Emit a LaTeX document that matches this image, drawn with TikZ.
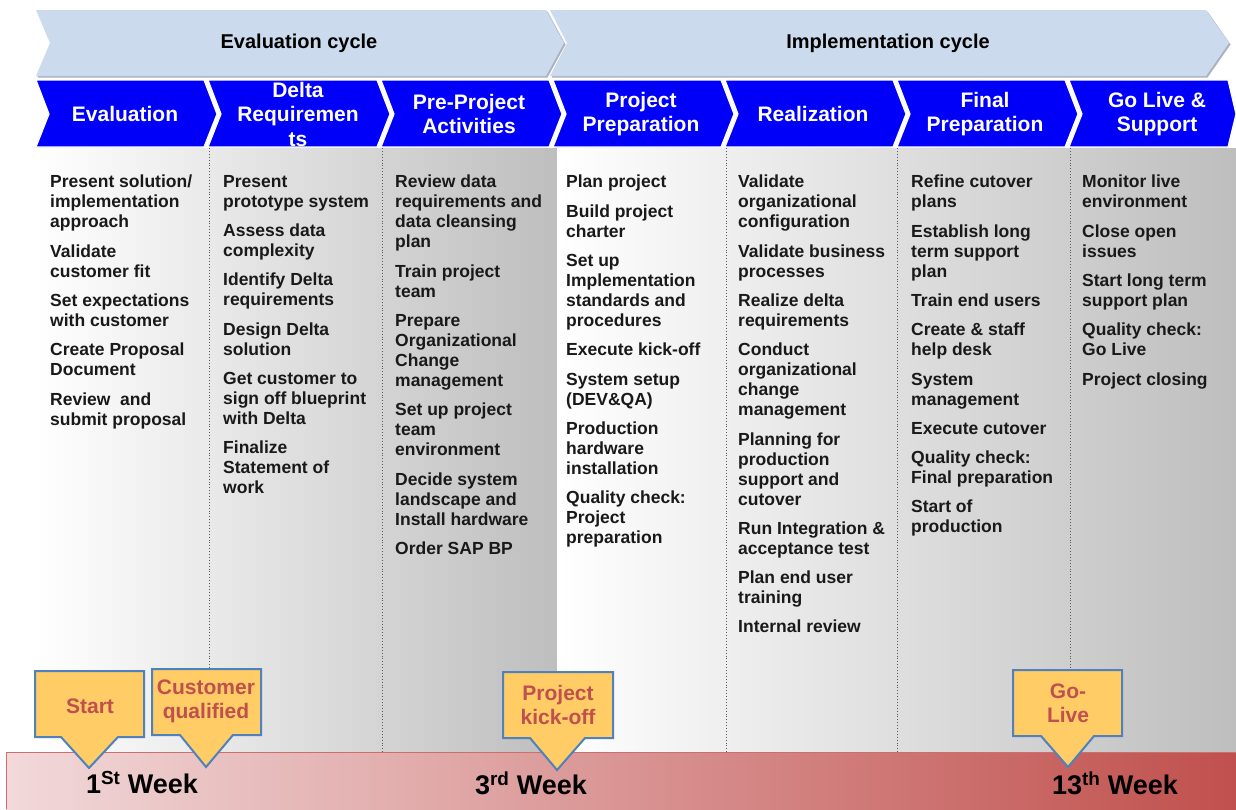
\documentclass[tikz,border=0pt]{standalone}
\usepackage{fontspec}
\setmainfont{Liberation Sans}
\definecolor{hdrblue}{RGB}{203,219,237}
\definecolor{hdrshadow}{RGB}{170,178,190}
\definecolor{phaseblue}{RGB}{0,0,250}
\definecolor{panelgray}{RGB}{190,190,190}
\definecolor{divgray}{RGB}{90,90,90}
\definecolor{barleft}{RGB}{242,217,218}
\definecolor{barright}{RGB}{192,80,77}
\definecolor{barline}{RGB}{205,110,110}
\definecolor{callfill}{RGB}{255,204,102}
\definecolor{callline}{RGB}{79,129,189}
\definecolor{calltext}{RGB}{192,80,77}
\newcommand\hdrfont{\fontsize{20}{24}\selectfont\bfseries}
\newcommand\phasefont{\fontsize{21}{24.5}\selectfont\bfseries}
\newcommand\bodyfont{\fontsize{17.5}{20}\selectfont\bfseries}
\newcommand\callfont{\fontsize{21}{24}\selectfont\bfseries}
\newcommand\weekfont{\fontsize{27}{30}\selectfont\bfseries}
\newcommand\itemgap{\\[9.3pt]}
\tikzset{
  hdr/.style={fill=hdrblue},
  hdrshade/.style={fill=hdrshadow},
  hdrtext/.style={font=\hdrfont, text=black, inner sep=0},
  phase/.style={fill=phaseblue, draw=white, line width=1.2pt},
  phasetext/.style={font=\phasefont, text=white, align=center, inner sep=0},
  body/.style={anchor=north west, align=left, font=\bodyfont, text=black!90, inner sep=0},
  divider/.style={dotted, divgray, line width=0.9pt},
  callout/.style={fill=callfill, draw=callline, line width=2pt, line join=miter},
  calltext/.style={font=\callfont, text=calltext, align=center, inner sep=0},
  week/.style={font=\weekfont, text=black, inner sep=0}
}
\begin{document}
\begin{tikzpicture}[x=1pt,y=-1pt]
\useasboundingbox (0,0) rectangle (1236,809);
\fill[white] (0,0) rectangle (1236,809);
% background panels
\shade[left color=white, right color=panelgray] (36,148) rectangle (557,752);
\shade[left color=white, right color=panelgray] (557,148) rectangle (1236,752);
% dividers
\foreach \x in {209,382,726,897,1070} \draw[divider] (\x,148) -- (\x,752);
% header chevrons (shadow + fill)
\begin{scope}[shift={(1.5,1.5)}]
\path[hdrshade] (36,10) -- (546,10) -- (564,43) -- (546,76) -- (36,76) -- (50,43) -- cycle;
\path[hdrshade] (550,10) -- (1206,10) -- (1229,43) -- (1206,76) -- (550,76) -- (567,43) -- cycle;
\end{scope}
\path[hdr] (36,10) -- (546,10) -- (564,43) -- (546,76) -- (36,76) -- (50,43) -- cycle;
\path[hdr] (550,10) -- (1206,10) -- (1229,43) -- (1206,76) -- (550,76) -- (567,43) -- cycle;
\node[hdrtext] (evalcycle) at (299,43) {Evaluation cycle};
\node[hdrtext] (implcycle) at (888,43) {Implementation cycle};
% phase chevrons
\foreach \a/\b/\c in {36/204/217, 208/377/390, 381/549/562, 553/721/734, 725/893/906, 897/1065/1078, 1069/1228/1236}
  \path[phase] (\a,80) -- (\b,80) -- (\c,114) -- (\b,147) -- (\a,147) -- (\a+13,114) -- cycle;
\node[phasetext] (ph1) at (125,114) {Evaluation};
\node[phasetext] (ph2) at (298,114) {Delta\\Requiremen\\ts};
\node[phasetext] (ph3) at (469,114) {Pre-Project\\Activities};
\node[phasetext] (ph4) at (641,114) {Project\\Preparation};
\node[phasetext] (ph5) at (813,114) {Realization};
\node[phasetext] (ph6) at (985,114) {Final\\Preparation};
\node[phasetext] (ph7) at (1157,114) {Go Live \&\\Support};
% body texts
\node[body] (c1) at (50,175) {Present solution/\\implementation\\approach\itemgap
Validate\\customer fit\itemgap
Set expectations\\with customer\itemgap
Create Proposal\\Document\itemgap
Review\ \ and\\submit proposal};
\node[body] (c2) at (223,175) {Present\\prototype system\itemgap
Assess data\\complexity\itemgap
Identify Delta\\requirements\itemgap
Design Delta\\solution\itemgap
Get customer to\\sign off blueprint\\with Delta\itemgap
Finalize\\Statement of\\work};
\node[body] (c3) at (395,175) {Review data\\requirements and\\data cleansing\\plan\itemgap
Train project\\team\itemgap
Prepare\\Organizational\\Change\\management\itemgap
Set up project\\team\\environment\itemgap
Decide system\\landscape and\\Install hardware\itemgap
Order SAP BP};
\node[body] (c4) at (566,175) {Plan project\itemgap
Build project\\charter\itemgap
Set up\\Implementation\\standards and\\procedures\itemgap
Execute kick-off\itemgap
System setup\\(DEV\&QA)\itemgap
Production\\hardware\\installation\itemgap
Quality check:\\Project\\preparation};
\node[body] (c5) at (738,175) {Validate\\organizational\\configuration\itemgap
Validate business\\processes\itemgap
Realize delta\\requirements\itemgap
Conduct\\organizational\\change\\management\itemgap
Planning for\\production\\support and\\cutover\itemgap
Run Integration \&\\acceptance test\itemgap
Plan end user\\training\itemgap
Internal review};
\node[body] (c6) at (911,175) {Refine cutover\\plans\itemgap
Establish long\\term support\\plan\itemgap
Train end users\itemgap
Create \& staff\\help desk\itemgap
System\\management\itemgap
Execute cutover\itemgap
Quality check:\\Final preparation\itemgap
Start of\\production};
\node[body] (c7) at (1082,175) {Monitor live\\environment\itemgap
Close open\\issues\itemgap
Start long term\\support plan\itemgap
Quality check:\\Go Live\itemgap
Project closing};
% timeline bar
\shade[left color=barleft, right color=barright] (6,752) rectangle (1236,809);
\draw[barline, line width=1pt] (6,809) -- (6,752) -- (1236,752);
% callouts
\path[callout] (35,671) -- (144,671) -- (144,737) -- (118,737) -- (89,768) -- (61,737) -- (35,737) -- cycle;
\node[calltext] (start) at (90,706) {Start};
\path[callout] (152,669) -- (261,669) -- (261,735) -- (233,735) -- (206,767) -- (180,735) -- (152,735) -- cycle;
\node[calltext] (custq) at (206,701) {Customer\\qualified};
\path[callout] (503,672) -- (613,672) -- (613,738) -- (585,738) -- (557,770) -- (530,738) -- (503,738) -- cycle;
\node[calltext] (kickoff) at (558,705) {Project\\kick-off};
\path[callout] (1013,670) -- (1122,670) -- (1122,736) -- (1094,736) -- (1068,767) -- (1041,736) -- (1013,736) -- cycle;
\node[calltext] (golive) at (1068,703) {Go-\\Live};
% week labels
\node[week] (w1) at (142,783) {1\textsuperscript{St} Week};
\node[week] (w3) at (531,783) {3\textsuperscript{rd} Week};
\node[week] (w13) at (1115,783) {13\textsuperscript{th} Week};
\end{tikzpicture}
\end{document}
